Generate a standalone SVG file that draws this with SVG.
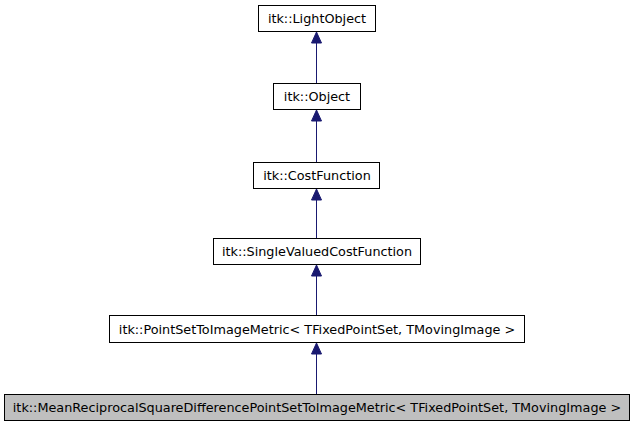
<svg xmlns="http://www.w3.org/2000/svg" width="635" height="427" viewBox="0 0 635 427">
<style>
.box{fill:#fff;stroke:#000;stroke-width:1}
.cur{fill:#bfbfbf;stroke:#000;stroke-width:1}
text{font-family:"DejaVu Sans",sans-serif;font-size:12.8px;text-anchor:middle;fill:#000}
.edge{stroke:#191970;stroke-width:1;fill:none}
.head{fill:#191970;stroke:#191970}
</style>
<rect width="635" height="427" fill="#fff"/>
<g id="edges">
<line class="edge" x1="316.5" y1="83" x2="316.5" y2="42"/>
<polygon class="head" points="316.5,32 321.5,43 311.5,43"/>
<line class="edge" x1="316.5" y1="163" x2="316.5" y2="120"/>
<polygon class="head" points="316.5,110 321.5,121 311.5,121"/>
<line class="edge" x1="316.5" y1="238" x2="316.5" y2="199"/>
<polygon class="head" points="316.5,189 321.5,200 311.5,200"/>
<line class="edge" x1="316.5" y1="315" x2="316.5" y2="275"/>
<polygon class="head" points="316.5,265 321.5,276 311.5,276"/>
<line class="edge" x1="316.5" y1="394" x2="316.5" y2="353"/>
<polygon class="head" points="316.5,343 321.5,354 311.5,354"/>
</g>
<g id="n1"><rect class="box" x="258.5" y="5.5" width="117" height="26"/><text x="317" y="23">itk::LightObject</text></g>
<g id="n2"><rect class="box" x="273.5" y="83.5" width="87" height="26"/><text x="317" y="101">itk::Object</text></g>
<g id="n3"><rect class="box" x="253.5" y="162.5" width="126" height="26"/><text x="317" y="180">itk::CostFunction</text></g>
<g id="n4"><rect class="box" x="213.5" y="238.5" width="207" height="26"/><text x="317" y="256">itk::SingleValuedCostFunction</text></g>
<g id="n5"><rect class="box" x="109.5" y="315.5" width="415" height="27"/><text x="317" y="334">itk::PointSetToImageMetric&lt; TFixedPointSet, TMovingImage &gt;</text></g>
<g id="n6"><rect class="cur" x="4.5" y="394.5" width="625" height="26"/><text x="317" y="412">itk::MeanReciprocalSquareDifferencePointSetToImageMetric&lt; TFixedPointSet, TMovingImage &gt;</text></g>
</svg>
